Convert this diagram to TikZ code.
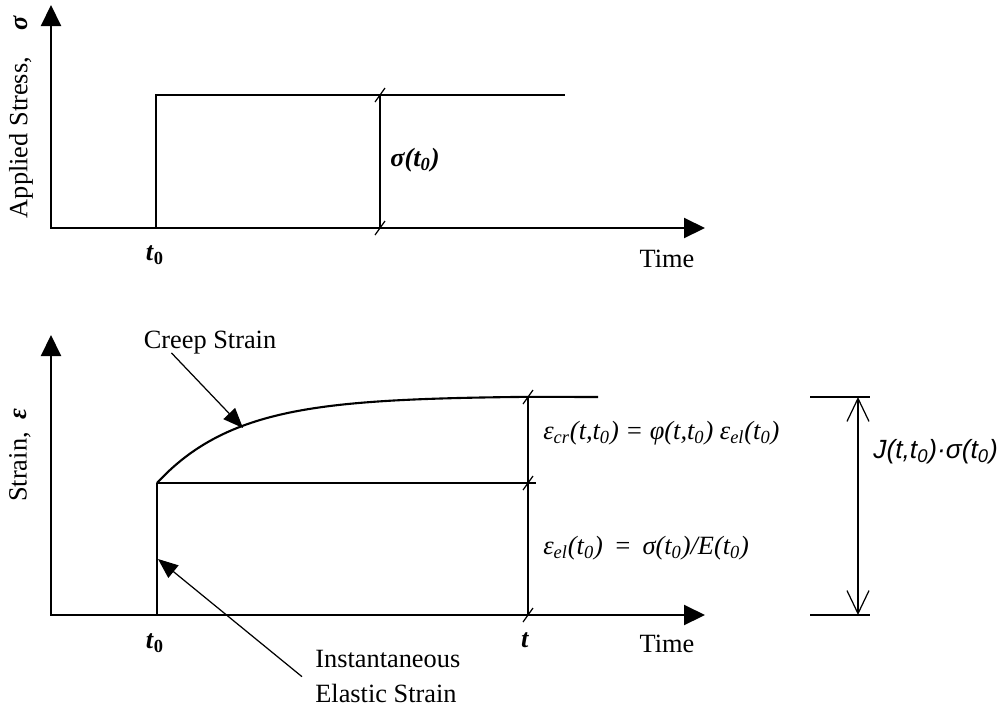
\documentclass[tikz,border=0pt]{standalone}
\usepackage{fontspec}
\setmainfont{Liberation Serif}
\setsansfont{Liberation Sans}
\usepackage{tikz}
\usetikzlibrary{arrows.meta, positioning, calc}

\begin{document}
\begin{tikzpicture}[x=0.02cm, y=-0.02cm, >={Triangle[length=0.42cm,width=0.4cm]},
    axis/.style={line width=1.2pt},
    thinline/.style={line width=0.7pt},
    lbl/.style={font=\fontsize{15}{20}\selectfont, inner sep=0pt},
    pointer/.style={line width=0.7pt, -{Triangle[length=0.4cm,width=0.32cm]}}]
    \useasboundingbox (0,0) rectangle (1005,721);

    % applied stress
    \coordinate (Y1) at (51,5);
    \coordinate (O1) at (51,228);
    \coordinate (X1) at (705,228);
    \draw[axis, <->] (Y1) -- (O1) -- (X1);
    \draw[axis] (156,228) -- (156,95) -- (565,95);
    \draw[thinline] (380,95) -- (380,228);
    \foreach \x/\y in {380/95, 380/228}
        \draw[thinline] (\x-5,\y+7) -- (\x+5,\y-7);
    \node[lbl, rotate=90] (stresslab) at (21,117) {Applied Stress,\quad\textbf{\textit{σ}}};
    \node[lbl] (t0top) at (155,255) {\textbf{\textit{t}\textsubscript{0}}};
    \node[lbl] (timetop) at (667,259) {Time};
    \node[lbl, anchor=west] (sigma0) at (390,160) {\bfseries\itshape σ(t\textsubscript{0})};

    % strain response
    \coordinate (Y2) at (51,335);
    \coordinate (O2) at (51,615);
    \coordinate (X2) at (705,615);
    \draw[axis, <->] (Y2) -- (O2) -- (X2);
    \draw[axis] (157,615) -- (157,483);
    \draw[thinline] (157,483) -- (536,483);
    \draw[axis] plot[domain=0:373, samples=80] ({157+\x},{483-87*(1-exp(-\x/80))}) -- (598,397);
    \draw[thinline] (528,397) -- (528,615);
    \foreach \x/\y in {528/397, 528/483, 528/615}
        \draw[thinline] (\x-5,\y+7) -- (\x+5,\y-7);
    \node[lbl, rotate=90] (strainlab) at (20,455) {Strain,\enspace\textbf{\textit{ε}}};
    \node[lbl] (t0bot) at (155,643) {\textbf{\textit{t}\textsubscript{0}}};
    \node[lbl] (tbot) at (525,640) {\textbf{\textit{t}}};
    \node[lbl] (timebot) at (667,644) {Time};

    % pointers
    \node[lbl] (creep) at (210,343) {Creep Strain};
    \coordinate (creeptip) at (243,428);
    \draw[pointer] ($(creep.south west)+(28,-2)$) -- (creeptip);
    \node[lbl, align=left, anchor=north west] (inst) at (315,650) {Instantaneous\\Elastic Strain};
    \coordinate (elastictip) at (158,559);
    \draw[pointer] ($(inst.west)+(-13,0)$) -- (elastictip);

    % formulas
    \node[lbl, anchor=west] (creepeq) at (543,433) {\itshape ε\textsubscript{cr}(t,t\textsubscript{0}) = φ(t,t\textsubscript{0}) ε\textsubscript{el}(t\textsubscript{0})};
    \node[lbl, anchor=west] (elasteq) at (543,548) {\itshape ε\textsubscript{el}(t\textsubscript{0}) \,=\, σ(t\textsubscript{0})/E(t\textsubscript{0})};

    % total strain
    \draw[thinline] (810,397) -- (870,397);
    \draw[thinline] (810,615) -- (870,615);
    \coordinate (Jtop) at (858,397);
    \coordinate (Jbot) at (858,615);
    \draw[thinline, {Straight Barb[length=0.46cm,width=0.44cm]}-{Straight Barb[length=0.46cm,width=0.44cm]}] (Jtop) -- (Jbot);
    \node[lbl, anchor=west, font=\fontsize{15}{20}\selectfont\sffamily\itshape] (Jlab) at (873,452) {J(t,t\textsubscript{0})·σ(t\textsubscript{0})};
\end{tikzpicture}
\end{document}
